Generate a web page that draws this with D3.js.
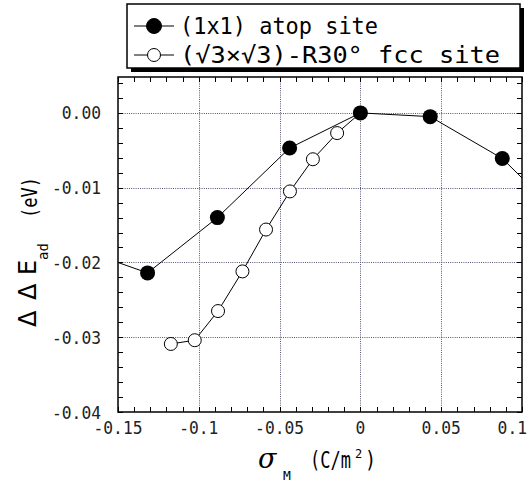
<!DOCTYPE html>
<html><head><meta charset="utf-8">
<script src="https://cdn.jsdelivr.net/npm/d3@7"></script>
<style>
html,body{margin:0;padding:0;background:#fff;}
svg{display:block;}
</style></head>
<body>
<svg id="c" width="532" height="482"></svg>
<script>
// ---- data ----
const atopX = [-0.175, -0.1317, -0.0885, -0.0438, 0.0, 0.0432, 0.0878, 0.132];
const atopY = [-0.0181, -0.0214, -0.0140, -0.0047, 0.0000, -0.0005, -0.0061, -0.0155];
const fccX = [-0.1173, -0.1025, -0.0881, -0.0730, -0.0584, -0.0436, -0.0294, -0.0144, 0.0];
const fccY = [-0.0309, -0.0304, -0.0265, -0.0212, -0.0156, -0.0105, -0.0062, -0.0027, 0.0000];
const xTicks = [-0.15, -0.1, -0.05, 0, 0.05, 0.1];
const xTickLabels = ["-0.15", "-0.1", "-0.05", "0", "0.05", "0.1"];
const yTicks = [0, -0.01, -0.02, -0.03, -0.04];
const yTickLabels = ["0.00", "-0.01", "-0.02", "-0.03", "-0.04"];
const legendLabels = ["(1x1) atop site", "(\u221A3\u00D7\u221A3)-R30\u00B0 fcc site"];

// ---- layout ----
const L = 118, R = 522, T = 77, B = 412;
const svg = d3.select("#c");
const x = d3.scaleLinear().domain([-0.15, 0.1]).range([L, R]);
const y = d3.scaleLinear().domain([-0.04, 0.0048]).range([B, T]);
const mono = "'DejaVu Sans Mono', monospace";

svg.append("defs").append("clipPath").attr("id", "clip")
  .append("rect").attr("x", L).attr("y", T).attr("width", R - L).attr("height", B - T);

// grid
const grid = svg.append("g").attr("stroke", "#55557a").attr("stroke-width", 1).attr("stroke-dasharray", "1,1.2");
grid.selectAll(".gx").data(xTicks.filter(v => v > -0.15 && v < 0.1)).join("line")
  .attr("x1", d => Math.round(x(d)) + 0.5).attr("x2", d => Math.round(x(d)) + 0.5).attr("y1", T).attr("y2", B);
grid.selectAll(".gy").data(yTicks.filter(v => v > -0.04)).join("line")
  .attr("y1", d => Math.round(y(d)) + 0.5).attr("y2", d => Math.round(y(d)) + 0.5).attr("x1", L).attr("x2", R);

// minor ticks (inward on all sides)
const xMinor = d3.range(-15, 11).map(i => i / 100);
const yMinor = d3.range(-20, 3).map(i => i / 500);
const tk = svg.append("g").attr("stroke", "#000").attr("stroke-width", 1);
tk.selectAll(".tb").data(xMinor).join("line")
  .attr("x1", d => Math.round(x(d)) + 0.5).attr("x2", d => Math.round(x(d)) + 0.5).attr("y1", B).attr("y2", B - 5);
tk.selectAll(".tt").data(xMinor).join("line")
  .attr("x1", d => Math.round(x(d)) + 0.5).attr("x2", d => Math.round(x(d)) + 0.5).attr("y1", T).attr("y2", T + 5);
tk.selectAll(".tl").data(yMinor).join("line")
  .attr("y1", d => Math.round(y(d)) + 0.5).attr("y2", d => Math.round(y(d)) + 0.5).attr("x1", L).attr("x2", L + 5);
tk.selectAll(".tr").data(yMinor).join("line")
  .attr("y1", d => Math.round(y(d)) + 0.5).attr("y2", d => Math.round(y(d)) + 0.5).attr("x1", R).attr("x2", R - 5);

// frame
svg.append("rect").attr("x", L).attr("y", T).attr("width", R - L).attr("height", B - T)
  .attr("fill", "none").attr("stroke", "#000").attr("stroke-width", 1.5);

// tick labels (narrow, tall look)
const last = xTicks.length - 1;
svg.append("g").selectAll("text").data(xTicks).join("text")
  .attr("x", (d, i) => i === last ? 527 : x(d)).attr("y", B + 22)
  .attr("text-anchor", (d, i) => i === last ? "end" : "middle")
  .attr("font-family", mono).attr("font-size", 18).attr("fill", "#222")
  .attr("textLength", (d, i) => xTickLabels[i].length * 9.8).attr("lengthAdjust", "spacingAndGlyphs")
  .text((d, i) => xTickLabels[i]);
svg.append("g").selectAll("text").data(yTicks).join("text")
  .attr("x", 101).attr("y", d => y(d) + 6.5).attr("text-anchor", "end")
  .attr("font-family", mono).attr("font-size", 18).attr("fill", "#222")
  .attr("textLength", (d, i) => yTickLabels[i].length * 9.8).attr("lengthAdjust", "spacingAndGlyphs")
  .text((d, i) => yTickLabels[i]);

// series
const line = d3.line().x(d => x(d[0])).y(d => y(d[1]));
const atop = atopX.map((v, i) => [v, atopY[i]]);
const fcc = fccX.map((v, i) => [v, fccY[i]]);
const plot = svg.append("g").attr("clip-path", "url(#clip)");
plot.append("path").datum(fcc).attr("d", line).attr("fill", "none").attr("stroke", "#000").attr("stroke-width", 1);
plot.selectAll(".of").data(fcc).join("circle").attr("cx", d => x(d[0])).attr("cy", d => y(d[1])).attr("r", 6.5)
  .attr("fill", "#fff").attr("stroke", "#000").attr("stroke-width", 1);
plot.append("path").datum(atop).attr("d", line).attr("fill", "none").attr("stroke", "#000").attr("stroke-width", 1);
plot.selectAll(".fa").data(atop).join("circle").attr("cx", d => x(d[0])).attr("cy", d => y(d[1])).attr("r", 7.5)
  .attr("fill", "#000");

// axis titles
svg.append("text").attr("x", 258).attr("y", 468).attr("font-family", "'DejaVu Serif', serif")
  .attr("font-style", "italic").attr("font-size", 27).text("\u03C3");
svg.append("text").attr("x", 283).attr("y", 480).attr("font-family", mono).attr("font-size", 13)
  .text("M");
svg.append("text").attr("transform", "translate(310,468) scale(0.74,1)").attr("font-family", mono).attr("font-size", 23)
  .text("(C/m");
svg.append("text").attr("x", 355).attr("y", 458).attr("font-family", mono).attr("font-size", 12).text("2");
svg.append("text").attr("transform", "translate(365,468) scale(0.8,1)").attr("font-family", mono).attr("font-size", 23)
  .text(")");

const yt = svg.append("g").attr("transform", "translate(36,0) rotate(-90)");
yt.append("text").attr("x", -327).attr("y", 0).attr("font-family", "'DejaVu Sans', sans-serif").attr("font-size", 24).text("\u0394");
yt.append("text").attr("x", -300).attr("y", 0).attr("font-family", "'DejaVu Sans', sans-serif").attr("font-size", 24).text("\u0394");
yt.append("text").attr("x", -275).attr("y", 0).attr("font-family", "'DejaVu Sans', sans-serif").attr("font-size", 24).text("E");
yt.append("text").attr("x", -260).attr("y", 12).attr("font-family", mono).attr("font-size", 14).text("ad");
yt.append("text").attr("x", -218).attr("y", 1).attr("font-family", mono).attr("font-size", 22)
  .attr("textLength", 41).attr("lengthAdjust", "spacingAndGlyphs").text("(eV)");

// legend
const lg = svg.append("g");
lg.append("rect").attr("x", 131).attr("y", 8).attr("width", 393).attr("height", 64).attr("fill", "#000");
lg.append("rect").attr("x", 127).attr("y", 4).attr("width", 393).attr("height", 64)
  .attr("fill", "#fff").attr("stroke", "#000").attr("stroke-width", 1.5);
const rows = [{y: 26, filled: true}, {y: 55, filled: false}];
rows.forEach((r, i) => {
  lg.append("line").attr("x1", 134).attr("x2", 174).attr("y1", r.y).attr("y2", r.y).attr("stroke", "#000").attr("stroke-width", 1);
  lg.append("circle").attr("cx", 154).attr("cy", r.y).attr("r", r.filled ? 7.5 : 6.5)
    .attr("fill", r.filled ? "#000" : "#fff").attr("stroke", "#000").attr("stroke-width", 1);
  const t = lg.append("text").attr("x", 180).attr("y", r.y + 8).attr("font-family", mono).attr("font-size", 23).text(legendLabels[i]);
  if (i === 0) t.attr("textLength", 198).attr("lengthAdjust", "spacingAndGlyphs");
  else t.attr("textLength", 320).attr("lengthAdjust", "spacingAndGlyphs");
});
</script>
</body></html>
